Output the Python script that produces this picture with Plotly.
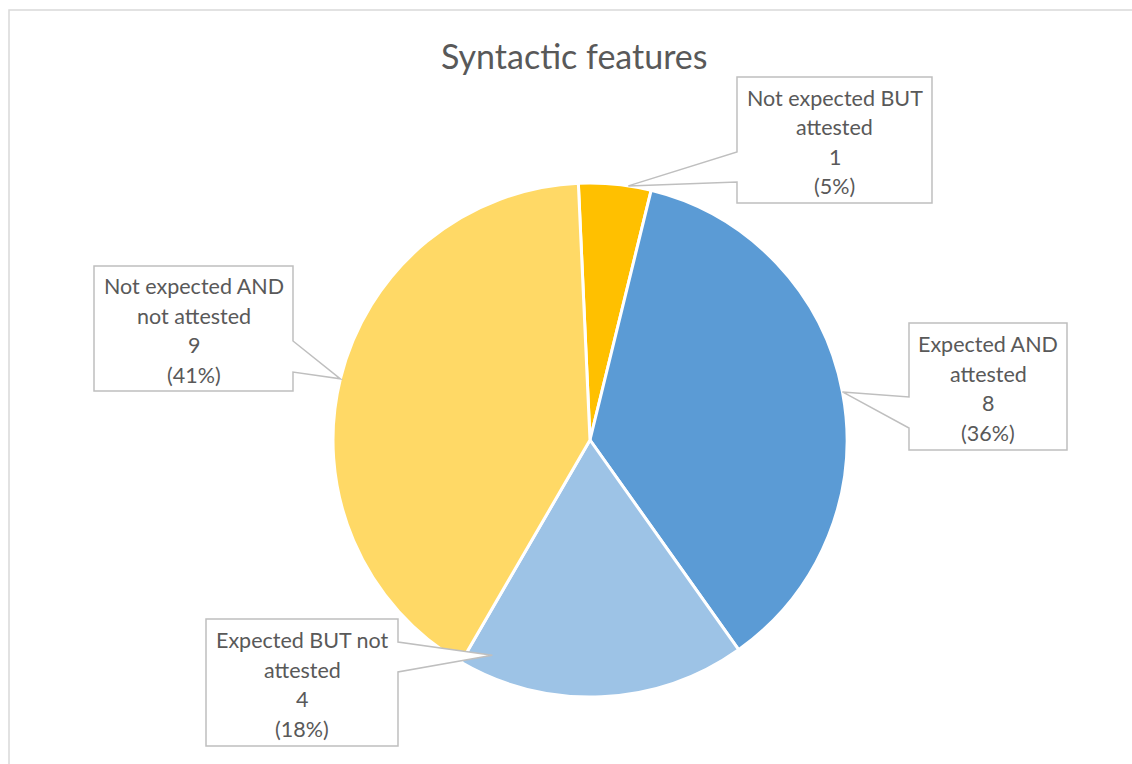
import math
import plotly.graph_objects as go

# ---- data ----
title_text = "Syntactic features"
categories = ["Not expected BUT attested", "Expected AND attested",
              "Expected BUT not attested", "Not expected AND not attested"]
label_lines = [["Not expected BUT", "attested"], ["Expected AND", "attested"],
               ["Expected BUT not", "attested"], ["Not expected AND", "not attested"]]
values = [1, 8, 4, 9]
colors = ["#FFC000", "#5B9BD5", "#9DC3E6", "#FFD966"]

# ---- layout ----
W, H = 1132, 764
CX, CY, R = 590, 440, 257
ROTATION = -2.6
# callout boxes (x0, y0, x1, y1) in px, side of pointer, pointer attach ys
boxes = [
    (737, 77, 932, 203, "left", (152, 182)),
    (909, 323, 1067, 450, "left", (397, 428)),
    (206, 619, 398, 746, "right", (642, 672)),
    (94, 266, 293, 391, "right", (341, 372)),
]
tip_angle_offset = [3, 0, 27, 0]
tip_radius = [1.0, 1.0, 0.92, 1.0]
TEXT = "#595959"
LINE = "#BFBFBF"
FONT = "Lato"


def px(x):
    return x / W


def py(y):
    return 1 - y / H


fig = go.Figure()
fig.add_trace(go.Pie(
    labels=categories, values=values, sort=False, direction="clockwise",
    rotation=ROTATION, marker=dict(colors=colors, line=dict(color="white", width=3)),
    textinfo="none", hoverinfo="label+value+percent", showlegend=False,
    domain=dict(x=[px(CX - R), px(CX + R)], y=[py(CY + R), py(CY - R)]),
))

total = sum(values)
shapes = []
annotations = []
cum = 0
for i, v in enumerate(values):
    mid = ROTATION + (cum + v / 2) / total * 360
    cum += v
    ang = math.radians(mid + tip_angle_offset[i])
    tx = CX + R * tip_radius[i] * math.sin(ang)
    ty = CY - R * tip_radius[i] * math.cos(ang)
    x0, y0, x1, y1, side, (a1, a2) = boxes[i]
    if side == "left":
        pts = [(x0, y0), (x1, y0), (x1, y1), (x0, y1), (x0, a2), (tx, ty), (x0, a1)]
    else:
        pts = [(x0, y0), (x1, y0), (x1, a1), (tx, ty), (x1, a2), (x1, y1), (x0, y1)]
    path = "M " + " L ".join(f"{px(a):.5f},{py(b):.5f}" for a, b in pts) + " Z"
    shapes.append(dict(type="path", xref="paper", yref="paper", path=path,
                       fillcolor="white", line=dict(color=LINE, width=1.5), layer="above"))
    pct = round(v / total * 100)
    lines = label_lines[i] + [str(v), f"({pct}%)"]
    ccx = (x0 + x1) / 2
    ccy = (y0 + y1) / 2 + 2
    spacing = 29.5
    for k, t in enumerate(lines):
        yy = ccy + (k - (len(lines) - 1) / 2) * spacing
        annotations.append(dict(x=px(ccx), y=py(yy), xref="paper", yref="paper",
                                text=t, showarrow=False, xanchor="center", yanchor="middle",
                                font=dict(family=FONT, size=21.5, color=TEXT)))

# chart area border
shapes.insert(0, dict(type="rect", xref="paper", yref="paper", x0=px(9), y0=-0.02,
                      x1=1.02, y1=py(10), line=dict(color="#D9D9D9", width=1.5),
                      fillcolor="rgba(0,0,0,0)", layer="below"))

annotations.append(dict(x=px(575), y=py(55), xref="paper", yref="paper", text=title_text,
                        showarrow=False, xanchor="center", yanchor="middle",
                        font=dict(family=FONT, size=34, color=TEXT)))

fig.update_layout(width=W, height=H, margin=dict(l=0, r=0, t=0, b=0),
                  paper_bgcolor="white", plot_bgcolor="white",
                  shapes=shapes, annotations=annotations)
fig.write_html("out.html")
